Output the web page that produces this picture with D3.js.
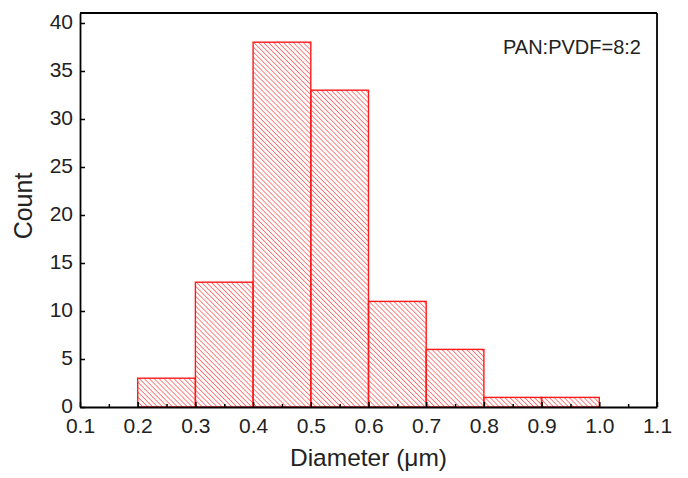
<!DOCTYPE html>
<html>
<head>
<meta charset="utf-8">
<script src="https://cdn.jsdelivr.net/npm/d3@7"></script>
<style>
  body { margin: 0; background: #fff; }
  text { font-family: "Liberation Sans", Arial, sans-serif; fill: #222; }
</style>
</head>
<body>
<div id="chart"></div>
<script>
// histogram bins (diameter, µm) and counts
const binStarts = [0.2, 0.3, 0.4, 0.5, 0.6, 0.7, 0.8, 0.9];
const binWidth = 0.1;
const counts = [3, 13, 38, 33, 11, 6, 1, 1];
const xTicks = [0.1, 0.2, 0.3, 0.4, 0.5, 0.6, 0.7, 0.8, 0.9, 1.0, 1.1];
const xMinorTicks = [0.15, 0.25, 0.35, 0.45, 0.55, 0.65, 0.75, 0.85, 0.95, 1.05];
const yTicks = [0, 5, 10, 15, 20, 25, 30, 35, 40];

const W = 688, H = 478;
const margin = { top: 13, right: 31, bottom: 71, left: 80 };
const width = W - margin.left - margin.right;
const height = H - margin.top - margin.bottom;

const svg = d3.select('#chart').append('svg')
    .attr('width', W)
    .attr('height', H);

// diagonal hatch pattern
const defs = svg.append('defs');
const pat = defs.append('pattern')
    .attr('id', 'hatch')
    .attr('patternUnits', 'userSpaceOnUse')
    .attr('width', 3.5)
    .attr('height', 3.5)
    .attr('patternTransform', 'rotate(-45)');
pat.append('line')
    .attr('x1', 0).attr('y1', 0)
    .attr('x2', 0).attr('y2', 3.5)
    .attr('stroke', '#ff1a1a')
    .attr('stroke-width', 1.1);

const g = svg.append('g')
    .attr('transform', `translate(${margin.left},${margin.top})`);

const x = d3.scaleLinear().domain([0.1, 1.1]).range([0, width]);
const y = d3.scaleLinear().domain([0, 41.04]).range([height, 0]);

// bars
g.selectAll('.bar')
    .data(binStarts)
    .enter().append('rect')
    .attr('class', 'bar')
    .attr('x', d => x(d))
    .attr('y', (d, i) => y(counts[i]))
    .attr('width', d => x(d + binWidth) - x(d))
    .attr('height', (d, i) => height - y(counts[i]))
    .attr('fill', 'url(#hatch)')
    .attr('stroke', '#ff1a1a')
    .attr('stroke-width', 1.4);

// x axis (ticks inward)
const xAxis = g.append('g')
    .attr('transform', `translate(0,${height})`)
    .call(d3.axisBottom(x).tickValues(xTicks).tickFormat(d3.format('.1f')).tickSizeInner(-5).tickSizeOuter(0));
xAxis.selectAll('text').attr('y', 11).attr('dy', '0.71em').style('font-size', '21px');

g.append('g')
    .attr('transform', `translate(0,${height})`)
    .call(d3.axisBottom(x).tickValues(xMinorTicks).tickFormat('').tickSizeInner(-3).tickSizeOuter(0))
    .call(a => a.select('.domain').remove());

// y axis (ticks inward)
const yAxis = g.append('g')
    .call(d3.axisLeft(y).tickValues(yTicks).tickSizeInner(-5).tickSizeOuter(0));
yAxis.selectAll('text').attr('x', -7).attr('dy', '0.26em').style('font-size', '21px');

svg.selectAll('.domain').attr('stroke', '#000').attr('stroke-width', 1.8);
svg.selectAll('.tick line').attr('stroke', '#000').attr('stroke-width', 1.5);

// frame top/right
g.append('line').attr('x1', 0).attr('x2', width).attr('y1', 0).attr('y2', 0)
    .attr('stroke', '#000').attr('stroke-width', 1.8);
g.append('line').attr('x1', width).attr('x2', width).attr('y1', 0).attr('y2', height)
    .attr('stroke', '#000').attr('stroke-width', 1.8);

// axis titles
svg.append('text')
    .attr('x', margin.left + width / 2)
    .attr('y', 466)
    .attr('text-anchor', 'middle')
    .style('font-size', '24.5px')
    .text('Diameter (\u03bcm)');

svg.append('text')
    .attr('transform', `translate(32,206) rotate(-90)`)
    .attr('text-anchor', 'middle')
    .style('font-size', '25px')
    .text('Count');

// annotation
svg.append('text')
    .attr('x', 641)
    .attr('y', 54)
    .attr('text-anchor', 'end')
    .style('font-size', '20px')
    .text('PAN:PVDF=8:2');
</script>
</body>
</html>
